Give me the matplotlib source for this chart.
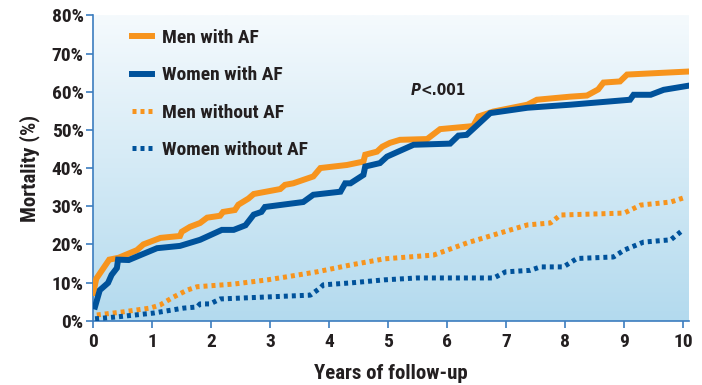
import numpy as np
import matplotlib
matplotlib.use("Agg")
import matplotlib.pyplot as plt
from matplotlib.colors import LinearSegmentedColormap
from matplotlib import font_manager

names = set(f.name for f in font_manager.fontManager.ttflist)
cond = [n for n in ['Liberation Sans Narrow', 'DejaVu Sans Condensed', 'Roboto Condensed'] if n in names]
plt.rcParams['font.family'] = cond + ['DejaVu Sans']
plt.rcParams['font.weight'] = 'heavy'
plt.rcParams['font.stretch'] = 'condensed'

# curve points (years, mortality %)
men_af_x = [0, 0.05, 0.27, 0.43, 0.74, 0.85, 1.14, 1.47, 1.5, 1.64, 1.81, 1.93, 2.15, 2.2, 2.4,
            2.46, 2.63, 2.72, 3.17, 3.25, 3.39, 3.73, 3.85, 4.3, 4.58, 4.61, 4.81, 4.9, 5.03,
            5.2, 5.66, 5.88, 6.44, 6.53, 6.78, 7.36, 7.52, 8.08, 8.37, 8.56, 8.65, 8.93, 9.05, 10.1]
men_af_y = [7.3, 11, 16, 16.5, 18.5, 20, 21.7, 22.2, 23.3, 24.6, 25.6, 27, 27.5, 28.5, 29,
            30.4, 32, 33.2, 34.5, 35.6, 36, 37.8, 40, 40.8, 41.7, 43.5, 44.3, 45.6, 46.6,
            47.4, 47.6, 50.2, 51, 53.5, 54.8, 56.6, 57.9, 58.7, 59, 60.6, 62.4, 62.7, 64.5, 65.3]

women_af_x = [0.03, 0.11, 0.25, 0.31, 0.4, 0.42, 0.6, 0.8, 1.08, 1.47, 1.81, 2.18, 2.38, 2.58,
              2.72, 2.85, 2.91, 3.56, 3.73, 4.19, 4.27, 4.36, 4.58, 4.61, 4.86, 4.98, 5.43,
              6.05, 6.19, 6.33, 6.73, 7.36, 8.09, 9.1, 9.16, 9.45, 9.67, 10.1]
women_af_y = [3.7, 8, 9.9, 12, 13.8, 16, 15.9, 17.2, 19, 19.6, 21.2, 23.8, 23.8, 25,
              27.8, 28.5, 29.8, 31.1, 33, 33.8, 36, 36, 38.2, 40.4, 41.3, 43, 46.1,
              46.4, 48.5, 48.7, 54.4, 55.8, 56.6, 57.9, 59.2, 59.2, 60.5, 61.6]

men_noaf_x = [0.06, 0.5, 0.96, 1.13, 1.36, 1.59, 1.76, 2.38, 2.95, 3.28, 3.79, 4.36, 4.93, 5.77,
              6.34, 6.9, 7.36, 7.75, 7.92, 9.0, 9.28, 9.79, 10.05]
men_noaf_y = [1.5, 2.3, 3.3, 4.1, 6.2, 8, 8.9, 9.6, 10.7, 11.5, 12.8, 14.6, 16.2, 17.2,
              20.4, 23, 25.1, 25.6, 27.7, 28.2, 30.3, 31.1, 32.4]

women_noaf_x = [0.03, 0.4, 1.02, 1.53, 1.76, 1.81, 1.98, 2.15, 3.68, 3.85, 3.9, 4.36, 4.93, 5.49,
                6.79, 6.99, 7.41, 7.58, 7.97, 8.2, 8.82, 9.0, 9.33, 9.79, 9.96]
women_noaf_y = [0.5, 1, 2, 3.3, 3.6, 4.4, 4.4, 5.7, 6.7, 8.6, 9.4, 9.9, 10.7, 11.2,
                11.2, 12.8, 13.2, 14.1, 14.1, 16.3, 16.7, 18.5, 20.6, 21.2, 23.3]

x_ticks = list(range(0, 11))
y_ticks = list(range(0, 81, 10))

orange = '#F7941D'
blue = '#00529B'
axis_col = '#3C7DBF'
text_col = '#231F20'

fig = plt.figure(figsize=(7.02, 3.85), dpi=100)
ax = fig.add_axes([0.1329, 0.167, 0.8486, 0.793])

# background gradient
cmap = LinearSegmentedColormap.from_list('bg', ['#B3DAEE', '#F5FAFD'])
grad = np.linspace(0, 1, 256).reshape(-1, 1)
ax.imshow(grad, cmap=cmap, aspect='auto', extent=[0, 1, 0, 1], origin='lower',
          transform=ax.transAxes, zorder=0)

ax.plot(men_af_x, men_af_y, color=orange, lw=4.3, solid_joinstyle='miter', label='Men with AF', zorder=3)
ax.plot(women_af_x, women_af_y, color=blue, lw=4.3, solid_joinstyle='miter', label='Women with AF', zorder=4)
ax.plot(men_noaf_x, men_noaf_y, color=orange, lw=3.6, ls=(0, (0.8, 0.8)), label='Men without AF', zorder=3)
ax.plot(women_noaf_x, women_noaf_y, color=blue, lw=3.6, ls=(0, (0.8, 0.8)), label='Women without AF', zorder=4)

ax.set_xlim(0, 10.1)
ax.set_ylim(0, 80)
ax.set_xticks(x_ticks)
ax.set_yticks(y_ticks)
ax.set_yticklabels([f'{v}%' for v in y_ticks])
for s in ['top', 'right']:
    ax.spines[s].set_visible(False)
for s in ['left', 'bottom']:
    ax.spines[s].set_color(axis_col)
    ax.spines[s].set_linewidth(1.2)
ax.tick_params(axis='both', colors=axis_col, length=5, width=1.2, labelcolor=text_col, labelsize=14)
ax.tick_params(axis='x', pad=4)
ax.tick_params(axis='y', pad=2)

ax.set_xlabel('Years of follow-up', fontsize=15, fontweight='heavy', color=text_col, labelpad=9)
ax.set_ylabel('Mortality (%)', fontsize=15, fontweight='heavy', color=text_col, labelpad=8)

ax.text(5.55, 60.3, 'P', fontsize=11, fontweight='bold', style='italic', color=text_col,
        ha='right', va='center', family='DejaVu Sans')
ax.text(5.55, 60.3, '<.001', fontsize=11, fontweight='bold', color=text_col,
        ha='left', va='center', family='DejaVu Sans')

leg = ax.legend(loc='upper left', bbox_to_anchor=(0.036, 1.013), frameon=False, fontsize=14,
                handlelength=1.0, handletextpad=0.55, labelspacing=1.0)
for t in leg.get_texts():
    t.set_color(text_col)

fig.savefig('out.png', dpi=100)
